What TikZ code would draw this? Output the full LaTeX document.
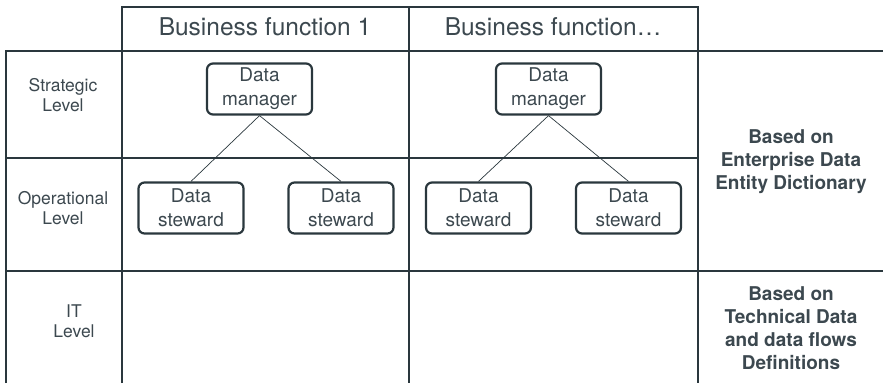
\documentclass[tikz,border=0pt]{standalone}
\usepackage{fontspec}
\setmainfont{TeX Gyre Heros}
\definecolor{ink}{HTML}{2A373D}
\definecolor{lettering}{HTML}{3C484F}

\begin{document}
\begin{tikzpicture}[x=1pt, y=-1pt, line width=2.4pt, draw=ink,
                    role node/.style={rectangle, rounded corners=6pt, draw=ink, line width=2.2pt,
                                      minimum width=105pt, minimum height=51pt, align=center, inner sep=0pt,
                                      text=lettering, font=\fontsize{19}{24}\selectfont},
                    head node/.style={text=lettering, font=\fontsize{24.5}{28}\selectfont},
                    level node/.style={align=center, text=lettering, font=\fontsize{17.5}{20.5}\selectfont},
                    note node/.style={align=center, text=lettering, font=\fontsize{19}{23}\selectfont\bfseries}]

  \useasboundingbox (0,0) rectangle (883,383);

  \draw[ink] (122,383) -- (122,7) -- (698,7) -- (698,383);
  \draw[ink] (409,7) -- (409,383);
  \draw[ink] (6,383) -- (6,51) -- (883,51);
  \draw[ink] (6,158) -- (698,158);
  \draw[ink] (6,271) -- (883,271);

  \node[head node] (f1) at (265,27) {Business function 1};
  \node[head node] (f2) at (553,27) {Business function…};

  \node[level node] (strategic) at (63,95) {Strategic\\Level};
  \node[level node] (operational) at (63,208) {Operational\\Level};
  \node[level node] (it) at (74,321) {IT\\Level};

  \node[role node] (1) at (259.5,89) {Data\\manager};
  \node[role node] (2) at (191,208) {Data\\steward};
  \node[role node] (3) at (341,208) {Data\\steward};
  \node[role node] (4) at (548.5,89) {Data\\manager};
  \node[role node] (5) at (478.5,208) {Data\\steward};
  \node[role node] (6) at (628.5,208) {Data\\steward};

  \node[note node] (entity) at (791,162) {Based on\\Enterprise Data\\Entity Dictionary};
  \node[note node] (technical) at (791,328) {Based on\\Technical Data\\and data flows\\Definitions};

\path[draw=ink, line width=0.7pt]
    (1.south) edge (2.north)
    (1.south) edge (3.north)
    (4.south) edge (5.north)
    (4.south) edge (6.north);

\end{tikzpicture}
\end{document}
